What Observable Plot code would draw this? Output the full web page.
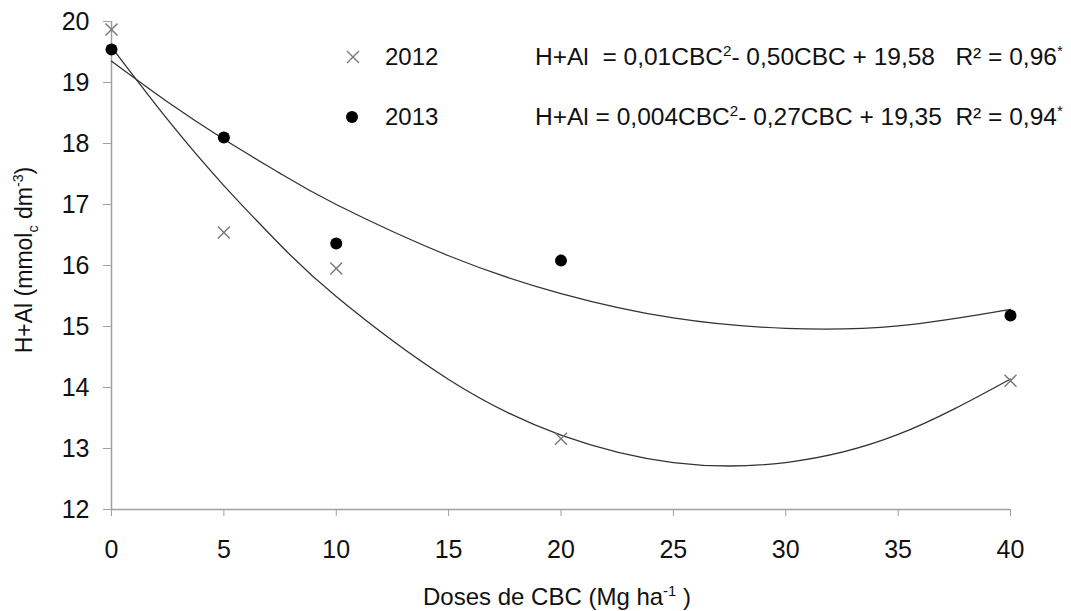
<!DOCTYPE html>
<html>
<head>
<meta charset="utf-8">
<script src="https://cdn.jsdelivr.net/npm/d3@7"></script>
<script src="https://cdn.jsdelivr.net/npm/@observablehq/plot@0.6"></script>
<style>
  html, body { margin: 0; padding: 0; background: #fff; }
  #chart { position: relative; width: 1071px; height: 611px; }
  svg text { white-space: pre; }
</style>
</head>
<body>
<div id="chart"></div>
<script>
// ---- data ----
const doses = [0, 5, 10, 20, 40];
const hal2012 = [19.87, 16.54, 15.95, 13.16, 14.11];
const hal2013 = [19.54, 18.10, 16.36, 16.08, 15.18];

// fitted trend curves
const fitDoses = [0, 2.5, 5, 7.5, 10, 15, 20, 25, 30, 35, 40];
const fit2012 = [19.58, 18.39, 17.31, 16.34, 15.49, 14.13, 13.22, 12.77, 12.77, 13.23, 14.14];
const fit2013 = [19.35, 18.68, 18.07, 17.51, 17.00, 16.16, 15.54, 15.14, 14.97, 15.01, 15.28];

const xTicks = [0, 5, 10, 15, 20, 25, 30, 35, 40];
const yTicks = [12, 13, 14, 15, 16, 17, 18, 19, 20];

const years = ["2012", "2013"];
const eq2012 = ["H+Al  = 0,01CBC", "2", "- 0,50CBC + 19,58   R² = 0,96", "*"];
const eq2013 = ["H+Al = 0,004CBC", "2", "- 0,27CBC + 19,35  R² = 0,94", "*"];
const xTitle = ["Doses de CBC (Mg ha", "-1", " )"];
const yTitle = ["H+Al (mmol", "c", " dm", "-3", ")"];

// ---- tables ----
const pts2012 = doses.map((d, i) => ({dose: d, v: hal2012[i]}));
const pts2013 = doses.map((d, i) => ({dose: d, v: hal2013[i]}));
const curve2012 = fitDoses.map((d, i) => ({dose: d, v: fit2012[i]}));
const curve2013 = fitDoses.map((d, i) => ({dose: d, v: fit2013[i]}));

const FONT = "'Liberation Sans', Arial, Helvetica, sans-serif";
const AXIS = "#a0a0a0";

const svg = Plot.plot({
  width: 1071,
  height: 611,
  marginLeft: 111,
  marginRight: 61,
  marginTop: 21,
  marginBottom: 102,
  style: {fontFamily: FONT, fontSize: "25px", color: "#111", background: "#fff"},
  x: {domain: [0, 40]},
  y: {domain: [12, 20]},
  marks: [
    Plot.axisX({ticks: xTicks, tickSize: 7, tickPadding: 24, stroke: AXIS, fill: "#111", label: null, fontSize: 25}),
    Plot.axisY({ticks: yTicks, tickSize: 8, tickPadding: 14, stroke: AXIS, fill: "#111", label: null, fontSize: 25}),
    Plot.ruleX([0], {stroke: AXIS, strokeWidth: 1.5}),
    Plot.ruleY([12], {stroke: AXIS, strokeWidth: 1.5}),
    Plot.line(curve2012, {x: "dose", y: "v", curve: "natural", stroke: "#333", strokeWidth: 1.3}),
    Plot.line(curve2013, {x: "dose", y: "v", curve: "natural", stroke: "#333", strokeWidth: 1.3}),
    Plot.dot(pts2012, {x: "dose", y: "v", symbol: "times", r: 5.5, stroke: "#777", strokeWidth: 1.4}),
    Plot.dot(pts2013, {x: "dose", y: "v", symbol: "circle", r: 6, fill: "#000", stroke: "none"})
  ]
});
document.getElementById("chart").appendChild(svg);

// ---- legend and axis titles with super/subscripts ----
const root = d3.select(svg).append("g")
  .attr("font-family", FONT).attr("fill", "#111").attr("text-anchor", "start");

function rich(sel, parts, kinds, size) {
  let shift = 0;
  parts.forEach((p, i) => {
    const k = kinds[i];
    const target = k === "sup" ? -0.38 * size : k === "sub" ? 0.25 * size : 0;
    sel.append("tspan")
      .attr("dy", target - shift)
      .attr("font-size", k === "n" ? size : size * 0.62)
      .text(p);
    shift = target;
  });
}

// legend
const leg = root.append("g");
leg.append("path").attr("d", "M347,51L359,63M359,51L347,63").attr("stroke", "#777").attr("stroke-width", 1.4).attr("fill", "none");
leg.append("circle").attr("cx", 352).attr("cy", 117).attr("r", 6).attr("fill", "#000");
leg.append("text").attr("x", 385).attr("y", 65).attr("font-size", 24).text(years[0]);
leg.append("text").attr("x", 385).attr("y", 125).attr("font-size", 24).text(years[1]);
rich(leg.append("text").attr("x", 535).attr("y", 65), eq2012, ["n", "sup", "n", "sup"], 24.5);
rich(leg.append("text").attr("x", 535).attr("y", 125), eq2013, ["n", "sup", "n", "sup"], 24.5);

// x title
rich(root.append("text").attr("x", 557).attr("y", 605).attr("text-anchor", "middle"), xTitle, ["n", "sup", "n"], 24);
// y title
rich(root.append("text").attr("transform", "translate(32,260) rotate(-90)").attr("text-anchor", "middle"), yTitle, ["n", "sub", "n", "sup", "n"], 23);
</script>
</body>
</html>
